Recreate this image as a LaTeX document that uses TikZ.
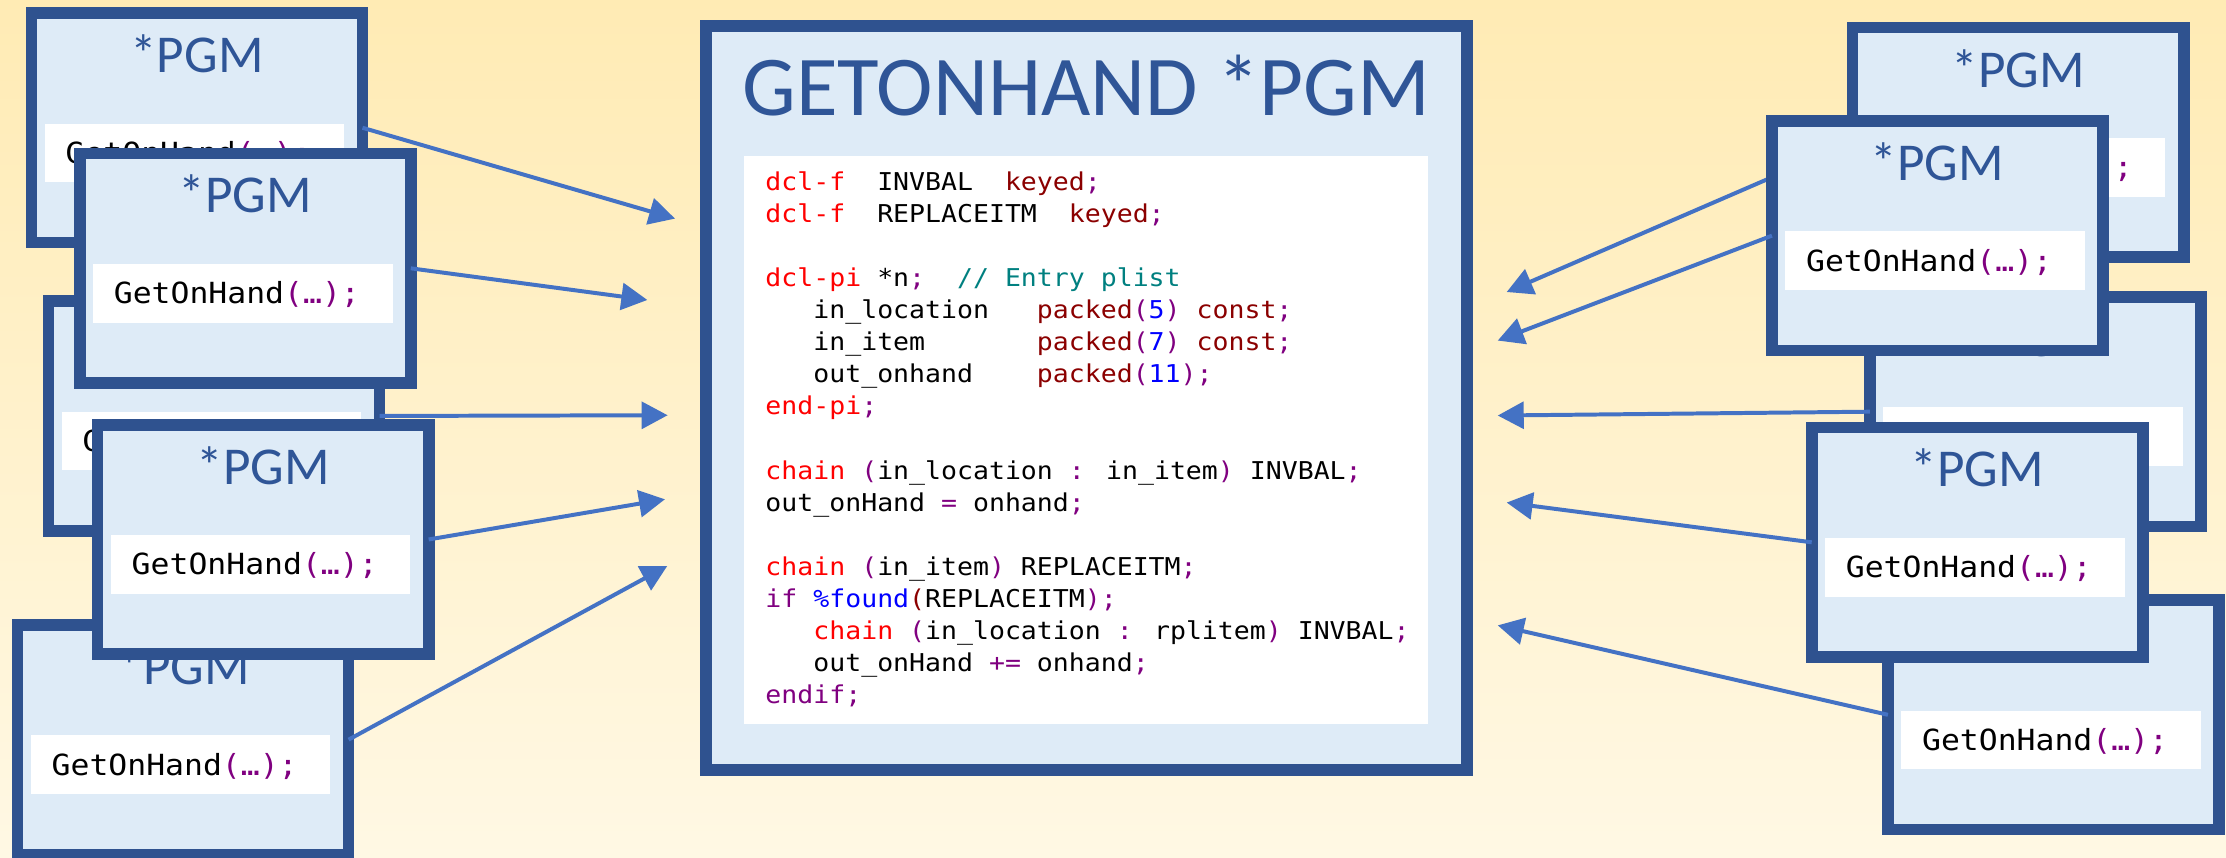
\documentclass[tikz,border=0pt]{standalone}
\usepackage{fontspec}
\setmainfont{Carlito}
\newfontfamily\codefont[FakeStretch=1.08]{DejaVu Sans Mono}
\usetikzlibrary{arrows.meta,calc}
\definecolor{bgtop}{HTML}{FFEBB4}
\definecolor{bgbot}{HTML}{FFF8E4}
\definecolor{boxborder}{HTML}{2F528F}
\definecolor{boxfill}{HTML}{DEEBF7}
\definecolor{titleblue}{HTML}{2F5597}
\definecolor{arrowblue}{HTML}{4472C4}
\definecolor{cred}{HTML}{FF0000}
\definecolor{cmaroon}{HTML}{8B0000}
\definecolor{cpurple}{HTML}{800080}
\definecolor{cblue}{HTML}{0000FF}
\definecolor{cteal}{HTML}{008080}
\newcommand\cR[1]{\textcolor{cred}{#1}}
\newcommand\cM[1]{\textcolor{cmaroon}{#1}}
\newcommand\cP[1]{\textcolor{cpurple}{#1}}
\newcommand\cB[1]{\textcolor{cblue}{#1}}
\newcommand\cT[1]{\textcolor{cteal}{#1}}
\newcommand\pgmbox[3]{%
  \node[pgmboxst] (#1) at (#2+120.75,#3+85) {};
  \node[codebar] (#1-bar) at (#2+119,#3+102.7) {};
  \node[pgmtitle] (#1-title) at (#2+120.75,#3+46) {*PGM};
  \node[pgmcode] (#1-code) at (#2+28,#3+110) {GetOnHand\cP{(…);}};
}
\begin{document}
\begin{tikzpicture}[x=1pt,y=-1pt,
  pgmboxst/.style={draw=boxborder, fill=boxfill, line width=8.3pt, minimum width=233.2pt, minimum height=161.7pt, inner sep=0pt, outer sep=0pt},
  mainbox/.style={draw=boxborder, fill=boxfill, line width=8.3pt, minimum width=536pt, minimum height=524pt, inner sep=0pt, outer sep=0pt},
  codebar/.style={fill=white, minimum width=211pt, minimum height=41.4pt, inner sep=0pt, outer sep=0pt},
  pgmtitle/.style={text=titleblue, font=\fontsize{37.5}{45}\selectfont, anchor=base, inner sep=0pt},
  maintitle/.style={text=titleblue, font=\fontsize{60}{72}\selectfont, anchor=base, inner sep=0pt},
  pgmcode/.style={font=\codefont\fontsize{20.5}{24}\selectfont, anchor=base west, inner sep=0pt},
  codeline/.style={font=\codefont\fontsize{17.3}{21}\selectfont, anchor=base west, inner sep=0pt},
  arr/.style={draw=arrowblue, line width=2.8pt, -{Triangle[length=18.3pt,width=18.8pt]}}
]
\useasboundingbox (0,0) rectangle (1568,604);
\shade[top color=bgtop, bottom color=bgbot] (0,0) rectangle (1568,604);

% main box
\node[mainbox] (main) at (765.25,280.25) {};
\node[codebar, minimum width=481.2pt, minimum height=400.5pt] (mainbar) at (765,309.95) {};
\node[maintitle] (maintitle) at (765.25,81.7) {GETONHAND *PGM};
\node[codeline] (l1) at (539,134.3) {\cR{dcl-f}~~INVBAL~~\cM{keyed}\cP{;}};
\node[codeline] (l2) at (539,156.87) {\cR{dcl-f}~~REPLACEITM~~\cM{keyed}\cP{;}};
\node[codeline] (l4) at (539,202.01) {\cR{dcl-pi} *n\cP{;}~~\cT{// Entry plist}};
\node[codeline] (l5) at (539,224.58) {~~~in\_location~~~\cM{packed}\cP{(}\cB{5}\cP{)} \cM{const}\cP{;}};
\node[codeline] (l6) at (539,247.15) {~~~in\_item~~~~~~~\cM{packed}\cP{(}\cB{7}\cP{)} \cM{const}\cP{;}};
\node[codeline] (l7) at (539,269.72) {~~~out\_onhand~~~~\cM{packed}\cP{(}\cB{11}\cP{);}};
\node[codeline] (l8) at (539,292.29) {\cR{end-pi}\cP{;}};
\node[codeline] (l10) at (539,337.43) {\cR{chain} \cP{(}in\_location \cP{:} in\_item\cP{)} INVBAL\cP{;}};
\node[codeline] (l11) at (539,360.0) {out\_onHand \cP{=} onhand\cP{;}};
\node[codeline] (l13) at (539,405.14) {\cR{chain} \cP{(}in\_item\cP{)} REPLACEITM\cP{;}};
\node[codeline] (l14) at (539,427.71) {\cP{if} \cB{\%found}\cM{(}REPLACEITM\cP{);}};
\node[codeline] (l15) at (539,450.28) {~~~\cR{chain} \cP{(}in\_location \cP{:} rplitem\cP{)} INVBAL\cP{;}};
\node[codeline] (l16) at (539,472.85) {~~~out\_onHand \cP{+=} onhand\cP{;}};
\node[codeline] (l17) at (539,495.42) {\cP{endif;}};

% arrow tips
\coordinate (a1) at (475.5,154);
\coordinate (a2) at (456,211.3);
\coordinate (a3) at (470.3,292.5);
\coordinate (a4) at (468.4,351.7);
\coordinate (a5) at (470,398.7);
\coordinate (b1) at (1061.3,205.7);
\coordinate (b2) at (1055,239.9);
\coordinate (b3) at (1055,292.7);
\coordinate (b4) at (1061.3,354);
\coordinate (b5) at (1055,440.5);

% left boxes
\pgmbox{L1}{18}{5}
\draw[arr] (L1.east) -- (a1);
\pgmbox{L3}{30}{208}
\draw[arr] (L3.east) -- (a3);
\pgmbox{L5}{8.2}{436}
\draw[arr] (L5.east) -- (a5);
\pgmbox{L2}{52}{104}
\draw[arr] (L2.east) -- (a2);
\pgmbox{L4}{64.6}{295}
\draw[arr] (L4.east) -- (a4);

% right boxes
\pgmbox{R1}{1300.8}{15.3}
\draw[arr] (R1.west) -- (b1);
\pgmbox{R3}{1313}{205}
\draw[arr] (R3.west) -- (b3);
\pgmbox{R5}{1325.7}{418.5}
\draw[arr] (R5.west) -- (b5);
\pgmbox{R2}{1244}{81}
\draw[arr] (R2.west) -- (b2);
\pgmbox{R4}{1272}{297}
\draw[arr] (R4.west) -- (b4);
\end{tikzpicture}
\end{document}
